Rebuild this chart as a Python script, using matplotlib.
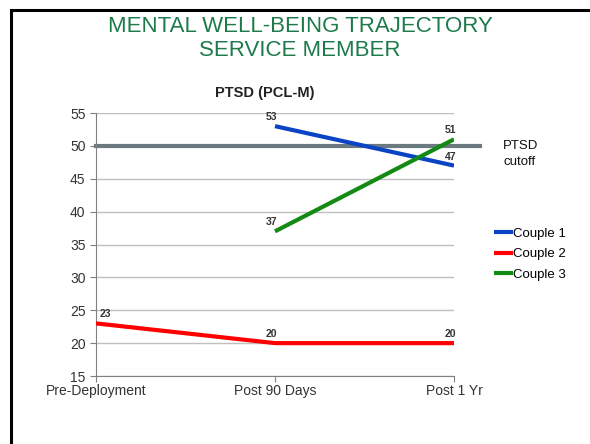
import matplotlib.pyplot as plt
from matplotlib.patches import Rectangle

plt.rcParams['font.family'] = ['Liberation Sans', 'DejaVu Sans']

categories = ['Pre-Deployment', 'Post 90 Days', 'Post 1 Yr']
couple1 = [None, 53, 47]
couple2 = [23, 20, 20]
couple3 = [None, 37, 51]
cutoff = 50
series = [('Couple 1', couple1, '#0a44c4'),
          ('Couple 2', couple2, '#ff0000'),
          ('Couple 3', couple3, '#138a13')]

fig = plt.figure(figsize=(5.9, 4.44), dpi=100)
ax = fig.add_axes([96 / 590, 1 - 376 / 444, (454 - 96) / 590, (376 - 113) / 444])

# page frame (top and left edges visible)
fig.patches.append(Rectangle((11 / 590, -0.1), 1.2, 1 - 10 / 444 + 0.1,
                             transform=fig.transFigure, fill=False,
                             edgecolor='black', linewidth=2.2))

x = list(range(len(categories)))
# cutoff line runs past the plot area, to the right
ax.plot([0, 2.145], [cutoff, cutoff], color='#6b7a80', lw=3, clip_on=False, zorder=2)
for name, vals, col in series:
    xs = [i for i, v in zip(x, vals) if v is not None]
    ys = [v for v in vals if v is not None]
    ax.plot(xs, ys, color=col, lw=3, label=name, zorder=3, solid_capstyle='butt')
    for xi, yi in zip(xs, ys):
        dx = 0.05 if xi == 0 else -0.02
        ax.text(xi + dx, yi + 0.6, str(yi), fontsize=7.5, fontweight='bold',
                color='#333333', ha='center', va='bottom')

ax.set_xlim(0, 2)
ax.set_ylim(15, 55)
ax.set_yticks(range(15, 60, 5))
ax.set_xticks(x)
ax.set_xticklabels(categories)
ax.yaxis.grid(True, color='#c0c0c0', lw=1)
ax.set_axisbelow(True)
for s in ['top', 'right']:
    ax.spines[s].set_visible(False)
for s in ['left', 'bottom']:
    ax.spines[s].set_color('#808080')
ax.tick_params(axis='both', labelsize=10, colors='#808080', labelcolor='#333333', length=4)
ax.tick_params(axis='x', pad=2)

fig.text(300 / 590, 1 - 27 / 444, 'MENTAL WELL-BEING TRAJECTORY', ha='center', va='center',
         fontsize=16, color='#1d7a4a')
fig.text(300 / 590, 1 - 51 / 444, 'SERVICE MEMBER', ha='center', va='center',
         fontsize=16, color='#1d7a4a')
fig.text(265 / 590, 1 - 93 / 444, 'PTSD (PCL-M)', ha='center', va='center',
         fontsize=10.5, fontweight='bold', color='#222222')
fig.text(503 / 590, 1 - 154 / 444, 'PTSD\ncutoff', ha='left', va='center',
         fontsize=9.5, color='#111111', linespacing=1.45)

ax.legend(loc='upper left', bbox_to_anchor=(487 / 590, 1 - 221 / 444),
          bbox_transform=fig.transFigure, frameon=False, fontsize=9.5,
          handlelength=1.5, handletextpad=0.0, labelspacing=0.62, borderpad=0)

fig.savefig('out.png', dpi=100)
